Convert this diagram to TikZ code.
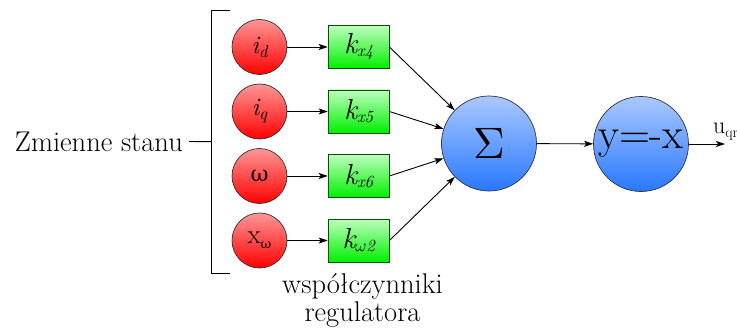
\documentclass[tikz,border=0pt]{standalone}
\usepackage{fontspec}
\usepackage{graphicx}
\newfontfamily\grk{DejaVu Serif}
\usetikzlibrary{arrows.meta}
\newcommand{\sbs}[2][-4pt]{\raisebox{#1}{\fontsize{17}{17}\selectfont #2}}
\tikzset{
 var/.style={circle, minimum size=55pt, inner sep=0pt, draw=black!80, line width=0.7pt,
   top color={rgb,255:red,255;green,150;blue,150}, bottom color={rgb,255:red,255;green,0;blue,0},
   font=\fontsize{27}{27}\selectfont},
 coef/.style={rectangle, minimum width=61pt, minimum height=43pt, inner sep=0pt, draw=black!60!green!80!black, line width=0.7pt,
   top color={rgb,255:red,190;green,255;blue,190}, bottom color={rgb,255:red,0;green,240;blue,0},
   font=\fontsize{29}{29}\selectfont\itshape},
 neuron/.style={circle, minimum size=95pt, inner sep=0pt, draw=black!80, line width=0.7pt,
   top color={rgb,255:red,170;green,200;blue,255}, bottom color={rgb,255:red,40;green,120;blue,255}},
 conn/.style={line width=0.9pt, -{Stealth[length=9pt,width=6pt,inset=2pt]}},
 brk/.style={line width=0.9pt},
 lbl/.style={font=\fontsize{28.5}{27.5}\selectfont, inner sep=0pt},
}
\begin{document}
\begin{tikzpicture}[x=1pt,y=-1pt]
\useasboundingbox (0,0) rectangle (737,329);
% state variables
\node[var] (id) at (259.5,47) {\fontsize{25}{25}\selectfont\itshape i\sbs{d}};
\node[var] (iq) at (259.5,111.5) {\fontsize{25}{25}\selectfont\itshape i\sbs{q}};
\node[var] (om) at (259.5,176) {\grk\fontsize{22}{22}\selectfont ω};
\node[var] (xo) at (259.5,240.5) {x\sbs[-5pt]{\grk\fontsize{13}{13}\selectfont ω}};
% coefficients
\node[coef] (k4) at (358.6,47) {k\sbs[-3pt]{\itshape x4}};
\node[coef] (k5) at (358.6,111.5) {k\sbs[-3pt]{\itshape x5}};
\node[coef] (k6) at (358.6,176) {k\sbs[-3pt]{\itshape x6}};
\node[coef] (k2) at (358.6,240.5) {k\sbs[-3pt]{$\omega$\itshape 2}};
% neurons
\node[neuron] (sum) at (489,143.5) {\scalebox{4.4}{$\Sigma$}};
\node[neuron, font=\fontsize{43}{43}\selectfont] (neg) at (641,144) {y=-x};
% labels
\node[lbl, anchor=east] (zs) at (183,141.5) {Zmienne stanu};
\node[lbl, anchor=north, align=center] (wr) at (362.5,273.5) {współczynniki\\regulatora};
\node[inner sep=0pt, anchor=base west, font=\fontsize{24}{24}\selectfont] (uq) at (713,133.3) {u\sbs[-4pt]{\fontsize{15}{15}\selectfont qr}};
% bracket
\coordinate (bt) at (230,10.7);
\coordinate (btl) at (211.7,10.7);
\coordinate (bbl) at (211.7,273);
\coordinate (bb) at (230,273);
\coordinate (bm) at (211.7,141.7);
\draw[brk] (bt) -- (btl) -- (bbl) -- (bb);
\draw[brk] ([xshift=6pt]zs.east) -- (bm);
% connectors
\foreach \a/\b in {id/k4,iq/k5,om/k6,xo/k2}{
  \draw[conn] (\a) -- (\b);
  \draw[conn] (\b.east) -- (sum);
}
\draw[conn] (sum) -- (neg);
\coordinate (out) at (725,144);
\draw[conn] (neg) -- (out);
\end{tikzpicture}
\end{document}
